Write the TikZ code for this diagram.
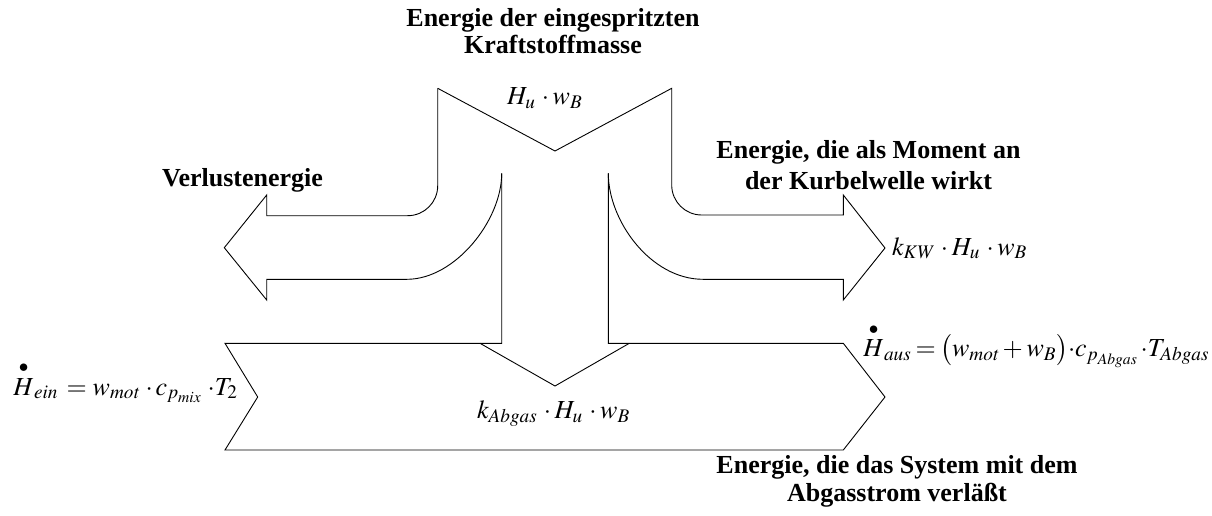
\documentclass[tikz,border=0pt]{standalone}
\usepackage{amsmath}
\usepackage{mathptmx}
\usepackage{fontspec}
\setmainfont{Liberation Serif}
\newcommand{\hdot}{\overset{\bullet}{H}}
\newcommand{\md}{\mathbin{\cdot}}
\begin{document}
\begin{tikzpicture}[x=1pt,y=-1pt,line width=0.9pt,line join=miter,
  lbl/.style={inner sep=0pt,anchor=base,font=\fontsize{26}{29}\selectfont\bfseries},
  frm/.style={inner sep=0pt,anchor=base west,font=\fontsize{26}{30}\selectfont}]
\useasboundingbox (0,0) rectangle (1212,516);
% outline: top inlet with outer branches
\draw (437.7,88.3) -- (555,151) -- (671.7,88.3) -- (671.7,185)
  .. controls (671.7,201.6) and (685.1,215) .. (701.7,215) -- (843.3,215)
  -- (843.3,195) -- (885,248) -- (843.3,300) -- (843.3,279.3) -- (703,279.3)
  .. controls (650.7,279.3) and (608.3,220.8) .. (608.3,173.3);
\draw (608.3,173.3) -- (608.3,343.3) -- (843.3,343.3) -- (885,397) -- (843.3,450)
  -- (225,450) -- (257.7,397) -- (225,343.3) -- (501.7,343.3) -- (501.7,173.3);
\draw (501.7,173.3) .. controls (501.7,220.8) and (454.7,279.3) .. (407,279.3)
  -- (266.7,279.3) -- (266.7,300) -- (224.3,247.7) -- (266.7,195) -- (266.7,215.7)
  -- (407.7,215.7) .. controls (424.3,215.7) and (437.7,202.3) .. (437.7,185.7)
  -- (437.7,88.3);
\draw (480,343.3) -- (555,386) -- (629.3,343.3);
% labels
\node[lbl] (t1) at (553,26.7) {Energie der eingespritzten};
\node[lbl] (t2) at (553,54) {Kraftstoffmasse};
\node[lbl,anchor=base west] (v) at (161.7,186.7) {Verlustenergie};
\node[lbl] (m1) at (868.5,158) {Energie, die als Moment an};
\node[lbl] (m2) at (868.5,189) {der Kurbelwelle wirkt};
\node[lbl] (a1) at (897,473) {Energie, die das System mit dem};
\node[lbl] (a2) at (897,501.7) {Abgasstrom verläßt};
% formulas
\node[frm] (f1) at (506.7,105) {$H_u\,\md w_B$};
\node[frm] (f2) at (891.7,255) {$k_{\mathit{KW}}\,\md H_u\,\md w_B$};
\node[frm] (f3) at (13,395) {$\hdot_{\mathit{ein}}\, = w_{\mathit{mot}}\;{\cdot}\, c_{p_{\mathit{mix}}}\;{\cdot}T_2$};
\node[frm] (f5) at (863,356.7) {$\thickmuskip=3mu\medmuskip=2.5mu
  \hdot_{\mathit{aus}} = \bigl(w_{\mathit{mot}} + w_B\bigr){\cdot} c_{p_{\mathit{Abgas}}}\,{\cdot}T_{\mathit{Abgas}}$};
\node[frm] (f4) at (476.7,418.3) {$k_{\mathit{Abgas}}\,\md H_u\,\md w_B$};
\end{tikzpicture}
\end{document}
